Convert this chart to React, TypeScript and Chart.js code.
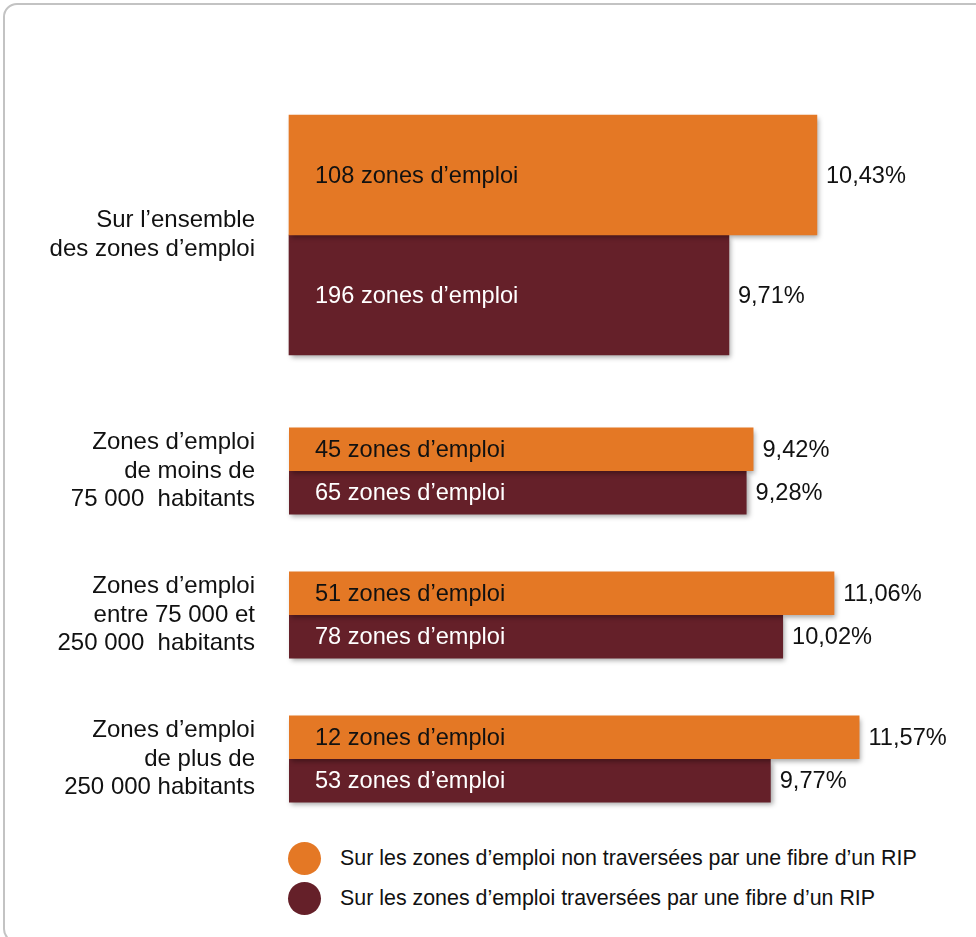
import React, { useEffect, useRef } from "react";
import { Chart, registerables } from "chart.js";

Chart.register(...registerables);

// ---- Data ----
const categoryLabels: string[][] = [
  ["Sur l’ensemble", "des zones d’emploi"],
  ["Zones d’emploi", "de moins de", "75 000  habitants"],
  ["Zones d’emploi", "entre 75 000 et", "250 000  habitants"],
  ["Zones d’emploi", "de plus de", "250 000 habitants"],
];
const seriesNames = [
  "Sur les zones d’emploi non traversées par une fibre d’un RIP",
  "Sur les zones d’emploi traversées par une fibre d’un RIP",
];
const nonTraverseesPct = [10.43, 9.42, 11.06, 11.57];
const nonTraverseesZones = [108, 45, 51, 12];
const traverseesPct = [9.71, 9.28, 10.02, 9.77];
const traverseesZones = [196, 65, 78, 53];

const ORANGE = "#E47825";
const MAROON = "#652029";
const FONT = "'Liberation Sans', Arial, sans-serif";

const fmtPct = (v: number) => v.toFixed(2).replace(".", ",") + "%";

const shadowPlugin = {
  id: "barShadow",
  beforeDatasetsDraw(chart: any) {
    const ctx = chart.ctx;
    ctx.save();
    ctx.shadowColor = "rgba(0,0,0,0.35)";
    ctx.shadowBlur = 5;
    ctx.shadowOffsetX = 2;
    ctx.shadowOffsetY = 3;
  },
  afterDatasetsDraw(chart: any) {
    chart.ctx.restore();
  },
};

const labelPlugin = {
  id: "barLabels",
  afterDatasetsDraw(chart: any) {
    const ctx = chart.ctx;
    ctx.save();
    ctx.textBaseline = "middle";
    ctx.textAlign = "left";
    ctx.font = `23.6px ${FONT}`;
    chart.data.datasets.forEach((ds: any, di: number) => {
      const meta = chart.getDatasetMeta(di);
      meta.data.forEach((bar: any, i: number) => {
        const left = Math.min(bar.base, bar.x);
        const right = Math.max(bar.base, bar.x);
        ctx.fillStyle = di === 0 ? "#111111" : "#ffffff";
        ctx.fillText(`${ds.zones[i]} zones d’emploi`, left + 26, bar.y + 1);
        ctx.fillStyle = "#111111";
        ctx.fillText(fmtPct(ds.data[i]), right + 9, bar.y + 1);
      });
    });
    ctx.restore();
  },
};

function makeConfig(idx: number[], xmin: number, xmax: number, catPct: number): any {
  return {
    type: "bar",
    data: {
      labels: idx.map((i) => categoryLabels[i]),
      datasets: [
        {
          label: seriesNames[0],
          data: idx.map((i) => nonTraverseesPct[i]),
          zones: idx.map((i) => nonTraverseesZones[i]),
          backgroundColor: ORANGE,
          base: xmin,
          barPercentage: 1,
          categoryPercentage: catPct,
          clip: false,
        },
        {
          label: seriesNames[1],
          data: idx.map((i) => traverseesPct[i]),
          zones: idx.map((i) => traverseesZones[i]),
          backgroundColor: MAROON,
          base: xmin,
          barPercentage: 1,
          categoryPercentage: catPct,
          clip: false,
        },
      ],
    },
    options: {
      indexAxis: "y",
      animation: false,
      responsive: false,
      devicePixelRatio: 1,
      layout: { padding: { top: 10, bottom: 10, left: 0, right: 10 } },
      plugins: { legend: { display: false }, tooltip: { enabled: false } },
      scales: {
        x: { display: false, min: xmin, max: xmax },
        y: {
          type: "category",
          grid: { display: false, drawTicks: false },
          border: { display: false },
          ticks: {
            color: "#111111",
            padding: 34,
            font: { family: FONT, size: 24, lineHeight: 1.2 },
          },
          afterFit(scale: any) {
            scale.width = 289;
            scale.paddingTop = 0;
            scale.paddingBottom = 0;
          },
        },
      },
    },
    plugins: [shadowPlugin, labelPlugin],
  };
}

export default function App() {
  const topRef = useRef<HTMLCanvasElement>(null);
  const botRef = useRef<HTMLCanvasElement>(null);

  useEffect(() => {
    const c1 = new Chart(topRef.current!, makeConfig([0], 6.11, 11.65, 1));
    const c2 = new Chart(botRef.current!, makeConfig([1, 2, 3], 0, 13.73, 0.604));
    return () => {
      c1.destroy();
      c2.destroy();
    };
  }, []);

  const legendItem = (color: string, text: string, top: number) => (
    <div
      style={{
        position: "absolute",
        left: 288,
        top,
        height: 34,
        display: "flex",
        alignItems: "center",
      }}
    >
      <span
        style={{
          display: "inline-block",
          width: 33,
          height: 33,
          borderRadius: "50%",
          background: color,
        }}
      />
      <span style={{ marginLeft: 19, fontSize: 21.4, color: "#111", fontFamily: FONT, whiteSpace: "nowrap" }}>
        {text}
      </span>
    </div>
  );

  return (
    <div
      style={{
        position: "absolute",
        left: 0,
        top: 0,
        width: 976,
        height: 937,
        overflow: "hidden",
        background: "#fff",
        fontFamily: FONT,
      }}
    >
      <div
        style={{
          position: "absolute",
          left: 3,
          top: 3,
          width: 990,
          height: 940,
          border: "2px solid #c3c3c3",
          borderRadius: 14,
          boxSizing: "border-box",
        }}
      />
      <canvas
        ref={topRef}
        width={976}
        height={260}
        style={{ position: "absolute", left: 0, top: 105, width: 976, height: 260 }}
      />
      <canvas
        ref={botRef}
        width={976}
        height={452}
        style={{ position: "absolute", left: 0, top: 389, width: 976, height: 452 }}
      />
      {legendItem(ORANGE, seriesNames[0], 841)}
      {legendItem(MAROON, seriesNames[1], 881)}
    </div>
  );
}
